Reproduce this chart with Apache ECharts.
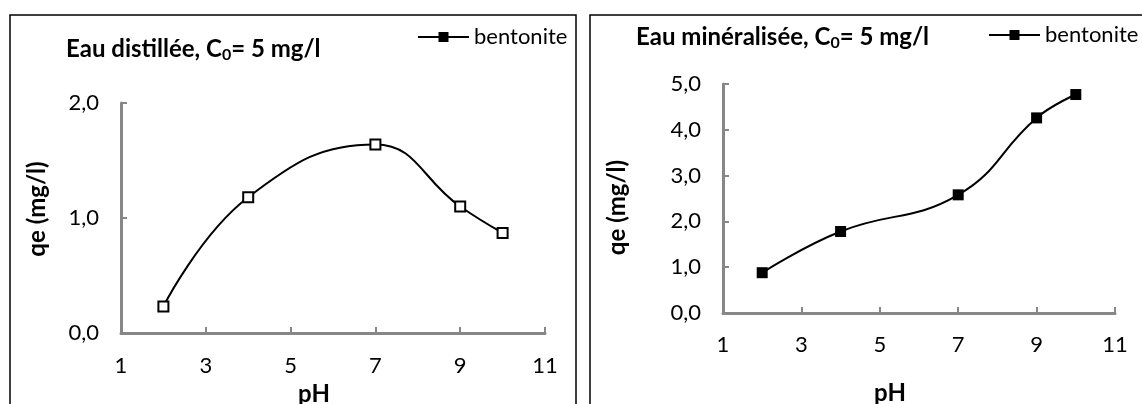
<!DOCTYPE html>
<html>
<head>
<meta charset="utf-8">
<script src="https://cdn.jsdelivr.net/npm/echarts@6/dist/echarts.min.js"></script>
<style>
html,body{margin:0;padding:0;background:#fff;}
#c{width:1142px;height:404px;}
</style>
</head>
<body>
<div id="c"></div>
<script>
// Data
const phValues = [2, 4, 7, 9, 10];
const qeDistillee = [0.23, 1.18, 1.64, 1.10, 0.87];
const qeMineralisee = [0.88, 1.78, 2.58, 4.26, 4.77];
const seriesName = 'bentonite';
const titleLeft = 'Eau distillée, C{s|0}= 5 mg/l';
const titleRight = 'Eau minéralisée, C{s|0}= 5 mg/l';
const xAxisName = 'pH';
const yAxisName = 'qe (mg/l)';

const FONT = 'Lato';
const toPairs = (xs, ys) => xs.map((x, i) => [x, ys[i]]);
const fmt = v => v.toFixed(1).replace('.', ',');

const axisGray = '#878787';
function xAx(gridIndex, margin, nameGap, padRight) {
  return {
    type: 'value', gridIndex, min: 1, max: 11, interval: 2,
    axisLine: {lineStyle: {color: axisGray, width: 3}},
    axisTick: {inside: true, length: 6, lineStyle: {color: axisGray, width: 2}},
    splitLine: {show: false},
    axisLabel: {color: '#000', fontFamily: FONT, fontSize: 22, margin},
    name: xAxisName, nameLocation: 'middle', nameGap,
    nameTextStyle: {color: '#000', fontFamily: FONT, fontSize: 24, fontWeight: 'bold', padding: [0, padRight, 0, 0]}
  };
}
function yAx(gridIndex, max, nameGap, pad) {
  return {
    type: 'value', gridIndex, min: 0, max, interval: 1,
    axisLine: {show: true, lineStyle: {color: axisGray, width: 3}},
    axisTick: {show: true, inside: true, length: 6, lineStyle: {color: axisGray, width: 2}},
    splitLine: {show: false},
    axisLabel: {color: '#000', fontFamily: FONT, fontSize: 22, margin: 22, formatter: fmt},
    name: yAxisName, nameLocation: 'middle', nameGap, nameRotate: 90,
    nameTextStyle: {color: '#000', fontFamily: FONT, fontSize: 24, fontWeight: 'bold', padding: pad}
  };
}
const titleStyle = {
  color: '#000', fontFamily: FONT, fontSize: 24, fontWeight: 'bold',
  rich: {s: {fontFamily: FONT, fontSize: 16, fontWeight: 'bold', color: '#000', padding: [12, 0, 0, 0]}}
};
const legendBase = {
  data: [seriesName], itemWidth: 51, itemHeight: 10, itemGap: 7,
  textStyle: {color: '#000', fontFamily: FONT, fontSize: 22},
  itemStyle: {color: '#000', borderColor: '#000'},
  lineStyle: {color: '#000', width: 2},
  selectedMode: false
};

const chart = echarts.init(document.getElementById('c'), null, {renderer: 'canvas'});
chart.setOption({
  animation: false,
  backgroundColor: '#fff',
  title: [
    {text: titleLeft, left: 66, top: 35, textStyle: titleStyle, padding: 0},
    {text: titleRight, left: 636, top: 23, textStyle: titleStyle, padding: 0}
  ],
  legend: [
    Object.assign({}, legendBase, {left: 417, top: 26, padding: 0}),
    Object.assign({}, legendBase, {left: 988, top: 24, padding: 0})
  ],
  grid: [
    {left: 121, right: 1142 - 545, top: 103, bottom: 404 - 333, containLabel: false, outerBoundsMode: 'none'},
    {left: 723, right: 1142 - 1115, top: 84, bottom: 404 - 313, containLabel: false, outerBoundsMode: 'none'}
  ],
  xAxis: [xAx(0, 22, 45, 38), xAx(1, 21, 68, 58)],
  yAxis: [yAx(0, 2, 72, [0, 0, 0, 18]), yAx(1, 5, 94, [0, 18, 0, 0])],
  graphic: [
    {type: 'rect', shape: {x: 10, y: 15, width: 566, height: 400}, style: {fill: 'none', stroke: '#000', lineWidth: 1.5}, silent: true},
    {type: 'rect', shape: {x: 590, y: 15, width: 600, height: 400}, style: {fill: 'none', stroke: '#000', lineWidth: 1.5}, silent: true}
  ],
  series: [
    {
      name: seriesName, type: 'line', xAxisIndex: 0, yAxisIndex: 0,
      data: toPairs(phValues, qeDistillee),
      smooth: 0.45,
      symbol: 'rect', symbolSize: 10,
      lineStyle: {color: '#000', width: 2},
      itemStyle: {color: '#fff', borderColor: '#000', borderWidth: 2}
    },
    {
      name: seriesName, type: 'line', xAxisIndex: 1, yAxisIndex: 1,
      data: toPairs(phValues, qeMineralisee),
      smooth: 0.45,
      symbol: 'rect', symbolSize: 11,
      lineStyle: {color: '#000', width: 2},
      itemStyle: {color: '#000', borderColor: '#000', borderWidth: 0}
    }
  ]
});
</script>
</body>
</html>
